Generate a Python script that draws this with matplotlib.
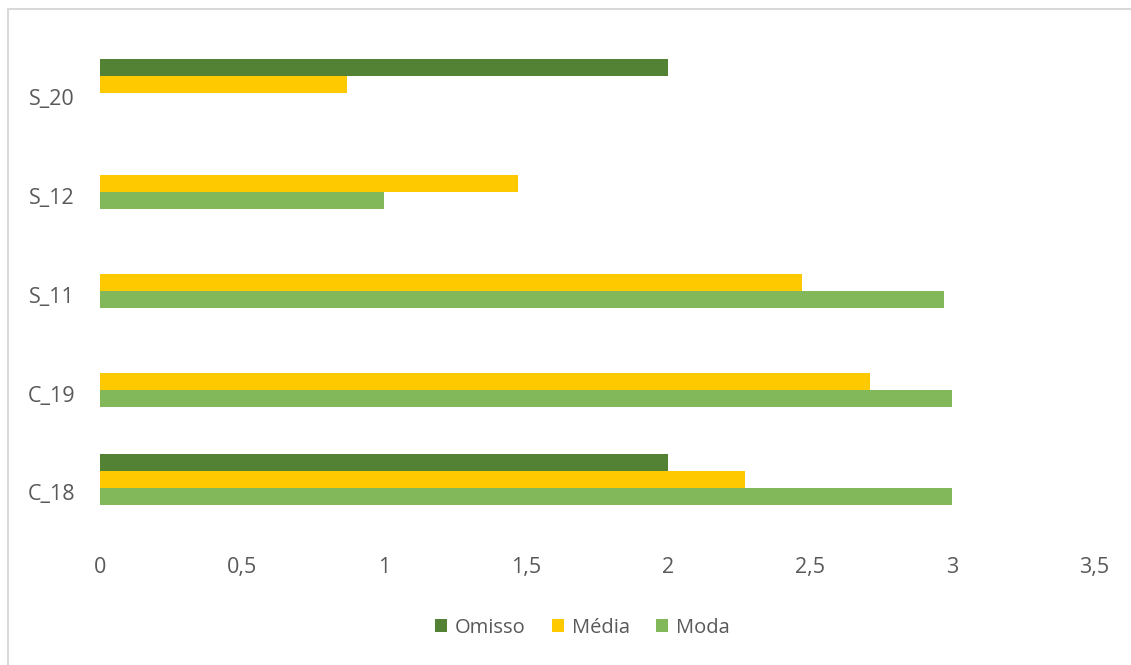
import numpy as np
import matplotlib
matplotlib.use('Agg')
import matplotlib.pyplot as plt
from matplotlib.ticker import FuncFormatter
from matplotlib.patches import Rectangle
from matplotlib.transforms import ScaledTranslation

plt.rcParams['font.family'] = ['Open Sans', 'DejaVu Sans']

# Categories (bottom to top) and series values
categories = ['C_18', 'C_19', 'S_11', 'S_12', 'S_20']
omisso = [2, 0, 0, 0, 2]
media = [2.27, 2.71, 2.47, 1.47, 0.87]
moda = [3, 3, 2.97, 1, 0]

series = [('Omisso', omisso, '#548235'),
          ('Média', media, '#FFC900'),
          ('Moda', moda, '#82B75A')]

fig = plt.figure(figsize=(11.31, 6.65), dpi=100)
ax = fig.add_axes([0.0884, 0.204, 0.879, 0.743])

# chart-area frame
fig.patches.append(Rectangle((8 / 1131, -0.05), 1.2, 1 - 9 / 665 + 0.05,
                             transform=fig.transFigure, fill=False,
                             edgecolor='#D9D9D9', linewidth=1.5))

y = np.arange(len(categories))
h = 0.172
offsets = [h, 0, -h]
for (name, vals, color), off in zip(series, offsets):
    ax.barh(y + off, vals, height=h, color=color, label=name)

ax.set_xlim(0, 3.5)
ax.set_ylim(-0.5, len(categories) - 0.5)
ax.set_xticks(np.arange(0, 3.51, 0.5))
ax.xaxis.set_major_formatter(FuncFormatter(lambda v, p: f'{v:g}'.replace('.', ',')))
ax.set_yticks(y)
ax.set_yticklabels(categories)

for s in ax.spines.values():
    s.set_visible(False)
ax.tick_params(axis='both', length=0, labelsize=15.5, labelcolor='#595959')
ax.tick_params(axis='x', pad=20)
ax.tick_params(axis='y', pad=18)

# category labels sit a little below the bar group
shift = ScaledTranslation(0, -9 / 72, fig.dpi_scale_trans)
for lbl in ax.get_yticklabels():
    lbl.set_transform(lbl.get_transform() + shift)

leg = fig.legend(loc='center', bbox_to_anchor=(0.515, 0.056), ncol=3, frameon=False,
                 fontsize=14.5, handlelength=0.6, handleheight=0.6, handletextpad=0.4,
                 columnspacing=1.3)
for t in leg.get_texts():
    t.set_color('#595959')

fig.savefig('out.png', dpi=100)
plt.close(fig)
